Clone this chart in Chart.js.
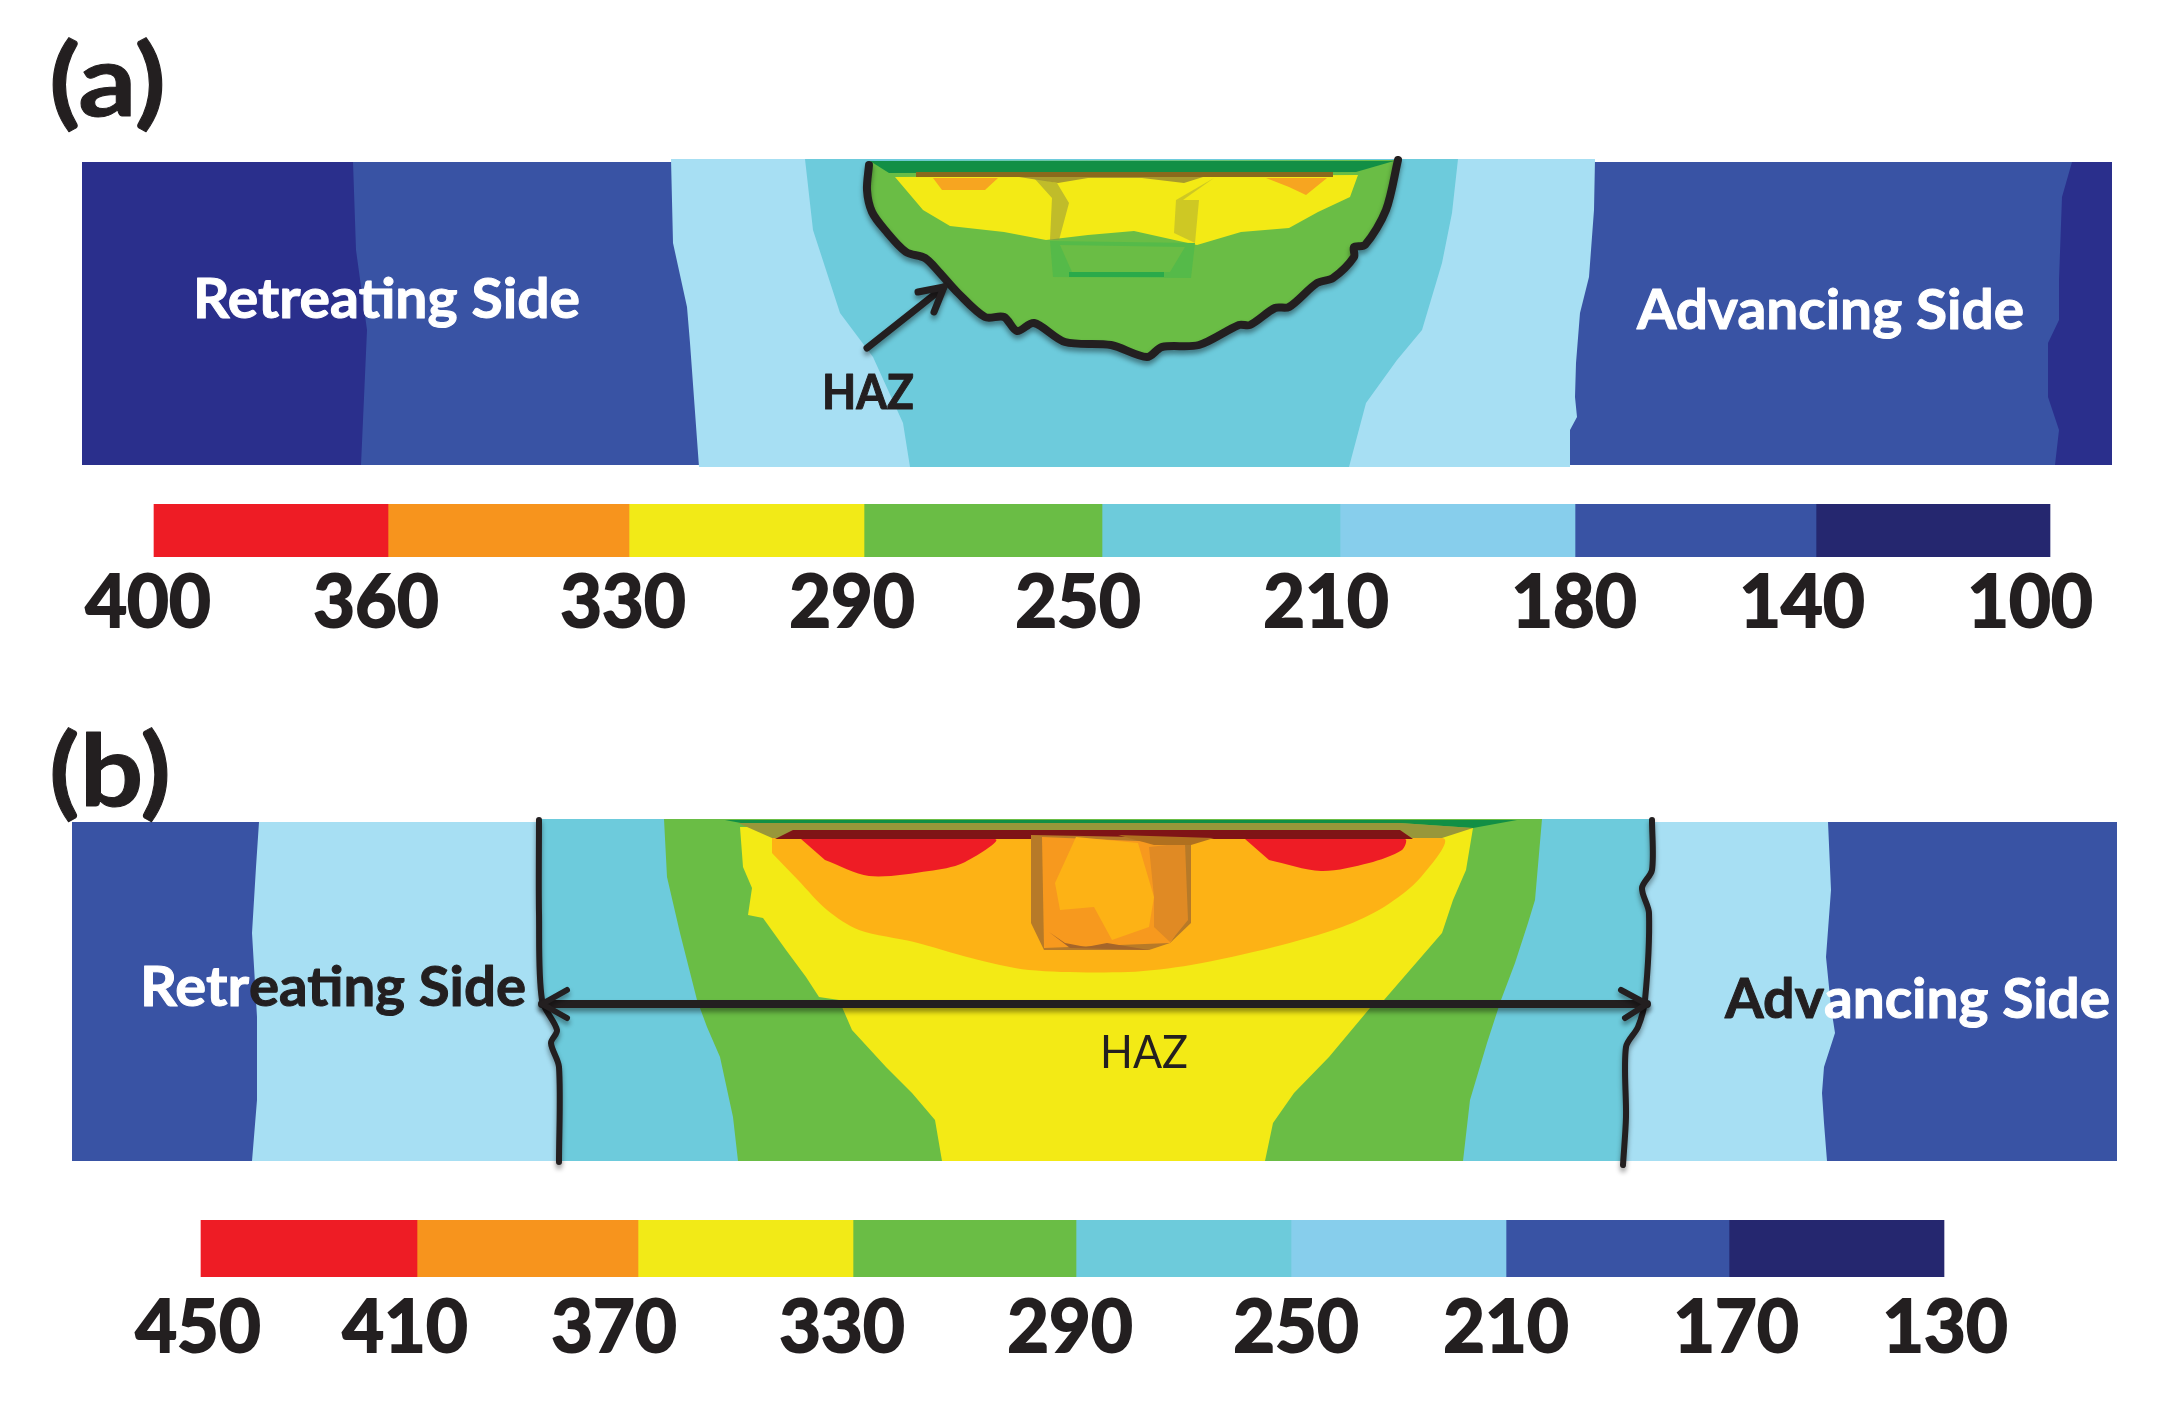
<!DOCTYPE html>
<html>
<head>
<meta charset="utf-8">
<title>Temperature contours</title>
<script src="https://cdn.jsdelivr.net/npm/chart.js@4"></script>
<style>
  html, body { margin: 0; padding: 0; background: #fff; }
  body { position: relative; width: 2160px; height: 1419px; overflow: hidden; }
  canvas { position: absolute; left: 0; }
</style>
</head>
<body>
<canvas id="plateA" width="2160" height="500" style="top:0"></canvas>
<canvas id="keyA" width="2160" height="136" style="top:504px"></canvas>
<canvas id="plateB" width="2160" height="510" style="top:700px"></canvas>
<canvas id="keyB" width="2160" height="142" style="top:1220px"></canvas>
<script>
// Colour keys
const labelsA = ['400', '360', '330', '290', '250', '210', '180', '140', '100'];
const labelsB = ['450', '410', '370', '330', '290', '250', '210', '170', '130'];
const edgesA = [154, 388, 629, 864, 1102, 1340, 1575, 1816, 2050];
const edgesB = [201, 417, 638, 853, 1076, 1291, 1506, 1729, 1944];
const tickAtA = [148, 376, 623, 852, 1078, 1326, 1574, 1802, 2030];
const tickAtB = [198, 405, 614, 842, 1070, 1296, 1506, 1736, 1945];
const keyColors = ['#ee1c25', '#f7941d', '#f2ea17', '#6abd45', '#6dcbdb', '#87ceec', '#3953a4', '#25276f'];

// Panel (a) contours
const aPlate = [[82, 162], [2112, 162], [2112, 465], [82, 465]];
const aBlue = [[353, 162], [2072, 162], [2062, 197], [2059, 280], [2059, 320], [2048, 343], [2048, 397], [2059, 430], [2055, 465], [361, 465], [367, 330], [356, 250]];
const aLight = [[671, 159], [1595, 159], [1594, 210], [1589, 277], [1580, 313], [1576, 363], [1575, 397], [1577, 417], [1570, 430], [1570, 467], [699, 467], [690, 343], [687, 307], [673, 243]];
const aCyan = [[805, 159], [1458, 159], [1452, 213], [1442, 263], [1422, 330], [1397, 360], [1366, 403], [1349, 467], [910, 467], [903, 423], [873, 357], [840, 313], [813, 230]];
const aHaz = [[869, 161], [867, 190], [872, 212], [885, 230], [906, 252], [925, 258], [939, 272], [958, 293], [985, 317], [1004, 317], [1017, 331], [1034, 323], [1065, 342], [1111, 345], [1147, 357], [1162, 347], [1199, 345], [1239, 325], [1250, 325], [1275, 308], [1289, 307], [1317, 283], [1333, 278], [1354, 257], [1354, 247], [1365, 245], [1386, 210], [1398, 160]];
const aYellow = [[895, 177], [1358, 175], [1350, 197], [1318, 212], [1289, 228], [1241, 232], [1197, 245], [1134, 231], [1088, 235], [1046, 240], [1004, 232], [950, 226], [923, 210]];
const aOrangeL = [[933, 178], [998, 178], [985, 190], [942, 190]];
const aOrangeR = [[1266, 178], [1327, 178], [1306, 195], [1289, 187]];
const aTopGreen = [[870, 161], [1394, 161], [1356, 172], [889, 173]];
const aBrown = [[916, 172], [1333, 172], [1333, 177], [916, 177]];
const aOlive = [[1019, 177], [1203, 177], [1184, 183], [1142, 178], [1088, 178], [1058, 183]];
const aPinL = [[1034, 178], [1057, 183], [1069, 203], [1059, 240], [1050, 240], [1052, 198]];
const aPinR = [[1214, 178], [1183, 200], [1199, 200], [1195, 243], [1174, 233], [1176, 200]];
const aPinRing = [[1050, 241], [1195, 243], [1191, 278], [1053, 277]];
const aPinCore = [[1060, 245], [1185, 247], [1170, 272], [1072, 272]];
const aPinBase = [[1069, 272], [1164, 272], [1164, 277], [1069, 277]];
const aHazCurve = [[869, 165], [867, 190], [872, 212], [885, 230], [906, 252], [925, 258], [939, 272], [958, 293], [985, 317], [1004, 317], [1017, 331], [1034, 323], [1065, 342], [1111, 345], [1147, 357], [1162, 347], [1199, 345], [1239, 325], [1250, 325], [1275, 308], [1289, 307], [1317, 283], [1333, 278], [1354, 257], [1354, 247], [1365, 245], [1386, 210], [1398, 160]];
const aArrow = [[867, 348], [944, 287]];
const aArrowHead = [[918, 292], [944, 287], [934, 312]];

// Panel (b) contours
const bPlate = [[72, 822], [2117, 822], [2117, 1161], [72, 1161]];
const bLight = [[259, 822], [1828, 822], [1831, 890], [1826, 957], [1831, 1007], [1835, 1033], [1824, 1067], [1822, 1093], [1824, 1123], [1827, 1161], [252, 1161], [257, 1100], [257, 1017], [252, 933], [256, 867]];
const bCyan = [[539, 819], [1652, 819], [1652, 870], [1642, 888], [1649, 913], [1645, 1000], [1638, 1027], [1626, 1047], [1626, 1117], [1623, 1161], [559, 1161], [559, 1067], [551, 1043], [557, 1030], [542, 1000], [539, 913]];
const bGreen = [[664, 819], [1542, 819], [1535, 900], [1528, 923], [1515, 963], [1501, 1000], [1487, 1043], [1470, 1100], [1463, 1161], [738, 1161], [733, 1117], [720, 1057], [707, 1027], [697, 1000], [680, 933], [667, 877]];
const bYellow = [[740, 827], [1473, 828], [1466, 870], [1453, 900], [1442, 933], [1384, 1000], [1370, 1008], [1329, 1057], [1294, 1093], [1273, 1123], [1265, 1161], [942, 1161], [935, 1120], [912, 1093], [886, 1067], [852, 1030], [839, 1000], [819, 997], [806, 977], [786, 950], [763, 918], [748, 915], [752, 888], [743, 867]];
const bOrange = [[772, 838], [1442, 838], [1421, 877], [1384, 907], [1342, 927], [1274, 947], [1191, 965], [1128, 972], [1029, 970], [971, 958], [914, 942], [859, 930], [827, 910], [798, 880], [772, 853]];
const bRedL = [[801, 839], [995, 839], [963, 863], [929, 871], [869, 876], [825, 860]];
const bRedR = [[1245, 839], [1405, 839], [1402, 850], [1369, 863], [1321, 871], [1269, 860]];
const bTopGreen = [[725, 820], [1517, 820], [1473, 828], [1400, 823], [741, 823]];
const bOlive = [[738, 823], [1400, 823], [1473, 828], [1442, 838], [772, 838]];
const bDarkRed = [[793, 830], [1400, 830], [1413, 839], [775, 839]];
const bPin = [[1031, 835], [1191, 838], [1191, 923], [1170, 943], [1149, 950], [1044, 950], [1031, 923]];
const bPinCore = [[1042, 837], [1185, 843], [1183, 923], [1170, 943], [1044, 948]];
const bPinLight = [[1076, 837], [1138, 843], [1154, 897], [1149, 927], [1112, 940], [1094, 907], [1060, 910], [1055, 883]];
const bPinSide = [[1149, 847], [1185, 843], [1188, 920], [1170, 942], [1154, 927], [1154, 897]];
const bPinCap = [[1118, 835], [1214, 838], [1191, 845], [1154, 845]];
const bPinFoot = [[1049, 932], [1070, 948], [1149, 950], [1107, 943], [1086, 947], [1065, 943]];
const bLineL = [[539, 820], [539, 913], [542, 1000], [557, 1030], [551, 1043], [559, 1067], [559, 1162]];
const bLineR = [[1652, 820], [1652, 870], [1642, 888], [1649, 913], [1645, 1000], [1638, 1027], [1626, 1047], [1626, 1117], [1623, 1165]];
const bSpan = [[542, 1004], [1647, 1004]];
const bHeadL = [[567, 990], [542, 1004], [567, 1018]];
const bHeadR = [[1621, 990], [1647, 1004], [1625, 1018]];

const INK = '#231f20';
const GREEN = '#6abd45';
const CYAN = '#6dcbdc';
const LIGHT = '#a7dff3';
const BLUE = '#3953a4';
const NAVY = '#2a2f8c';
const YELLOW = '#f3ea15';
const AMBER = '#fdb215';
const RED = '#ee1c25';

function area(points, color, tension = 0) {
  return {
    data: points.map(([x, y]) => ({ x, y })),
    showLine: true,
    fill: 'shape',
    backgroundColor: color,
    borderWidth: 0,
    pointRadius: 0,
    tension
  };
}

function stroke(points, width, tension = 0) {
  return {
    data: points.map(([x, y]) => ({ x, y })),
    showLine: true,
    fill: false,
    borderColor: INK,
    borderWidth: width,
    borderCapStyle: 'round',
    borderJoinStyle: 'round',
    pointRadius: 0,
    tension,
    inkShadow: true
  };
}

// hand drawn lines have a soft shadow below them
const shadowPlugin = {
  id: 'inkShadow',
  beforeDatasetDraw(chart, args) {
    if (!chart.data.datasets[args.index].inkShadow) return;
    const { ctx } = chart;
    ctx.save();
    ctx.shadowColor = 'rgba(0,0,0,0.4)';
    ctx.shadowBlur = 5;
    ctx.shadowOffsetY = 4;
  },
  afterDatasetDraw(chart, args) {
    if (chart.data.datasets[args.index].inkShadow) chart.ctx.restore();
  }
};

// text placed on the panel, stretched to the measured width
const textPlugin = {
  id: 'panelText',
  afterDatasetsDraw(chart, args, opts) {
    const { ctx, scales } = chart;
    opts.items.forEach(t => {
      ctx.save();
      ctx.textBaseline = 'alphabetic';
      ctx.textAlign = 'left';
      ctx.font = t.font;
      ctx.fillStyle = t.color;
      ctx.strokeStyle = t.color;
      ctx.lineWidth = t.heavy || 0;
      ctx.lineJoin = 'round';
      ctx.translate(scales.x.getPixelForValue(t.x), scales.y.getPixelForValue(t.y));
      if (t.width) ctx.scale(t.width / ctx.measureText(t.text).width, 1);
      ctx.fillText(t.text, 0, 0);
      if (t.heavy) ctx.strokeText(t.text, 0, 0);
      ctx.restore();
    });
  }
};

function drawPlate(id, yMin, yMax, layers, items) {
  new Chart(document.getElementById(id), {
    type: 'scatter',
    // the first dataset ends up on top, so paint order is reversed
    data: { datasets: layers.slice().reverse() },
    options: {
      responsive: false,
      animation: false,
      devicePixelRatio: 1,
      layout: { padding: 0 },
      plugins: { legend: { display: false }, tooltip: { enabled: false }, panelText: { items } },
      scales: {
        x: { type: 'linear', min: 0, max: 2160, display: false },
        y: { type: 'linear', min: yMin, max: yMax, reverse: true, display: false }
      }
    },
    plugins: [shadowPlugin, textPlugin]
  });
}

function drawKey(id, edges, tickAt, labels, barHeight, canvasHeight, padding) {
  new Chart(document.getElementById(id), {
    type: 'bar',
    data: {
      labels: ['key'],
      datasets: keyColors.map((color, i) => ({
        data: [[edges[i], edges[i + 1]]],
        backgroundColor: color,
        borderWidth: 0,
        grouped: false,
        barPercentage: 1,
        categoryPercentage: 1
      }))
    },
    options: {
      indexAxis: 'y',
      responsive: false,
      animation: false,
      devicePixelRatio: 1,
      layout: { padding: 0 },
      plugins: { legend: { display: false }, tooltip: { enabled: false } },
      scales: {
        y: { display: false },
        x: {
          type: 'linear',
          min: 0,
          max: 2160,
          grid: { display: false, drawTicks: false },
          border: { display: false },
          afterBuildTicks: axis => { axis.ticks = tickAt.map(value => ({ value })); },
          afterFit: axis => { axis.height = canvasHeight - barHeight; axis.paddingLeft = 0; axis.paddingRight = 0; },
          ticks: {
            autoSkip: false,
            maxRotation: 0,
            padding,
            color: INK,
            textStrokeColor: INK,
            textStrokeWidth: 2,
            font: { family: 'Lato', weight: 'bold', size: 72, lineHeight: 1 },
            callback: (value, i) => labels[i]
          }
        }
      }
    }
  });
}

drawPlate('plateA', 0, 500, [
  area(aPlate, NAVY),
  area(aBlue, BLUE),
  area(aLight, LIGHT),
  area(aCyan, CYAN),
  area(aHaz, GREEN),
  area(aYellow, YELLOW),
  area(aOrangeL, '#f7a520'),
  area(aOrangeR, '#f7a520'),
  area(aTopGreen, '#128f45'),
  area(aBrown, '#8a6a1c'),
  area(aOlive, '#a89a2c'),
  area(aPinL, 'rgba(150,150,60,0.55)'),
  area(aPinR, 'rgba(150,150,60,0.4)'),
  area(aPinRing, '#55ba49'),
  area(aPinCore, GREEN),
  area(aPinBase, '#2aaa4a'),
  stroke(aHazCurve, 8, 0.3),
  stroke(aArrow, 7),
  stroke(aArrowHead, 7)
], [
  { text: '(a)', x: 49, y: 116, width: 117, font: 'bold 100px Lato', color: INK, heavy: 1 },
  { text: 'Retreating Side', x: 193, y: 318, width: 387, font: 'bold 55px Lato', color: '#fff', heavy: 1 },
  { text: 'Advancing Side', x: 1637, y: 329, width: 387, font: 'bold 55px Lato', color: '#fff', heavy: 1 },
  { text: 'HAZ', x: 822, y: 409, width: 92, font: 'bold 47px Lato', color: INK, heavy: 1 }
]);

drawPlate('plateB', 700, 1210, [
  area(bPlate, BLUE),
  area(bLight, LIGHT),
  area(bCyan, CYAN),
  area(bGreen, GREEN),
  area(bYellow, YELLOW),
  area(bOrange, AMBER, 0.3),
  area(bRedL, RED, 0.3),
  area(bRedR, RED, 0.3),
  area(bTopGreen, '#128f45'),
  area(bOlive, '#98973a'),
  area(bDarkRed, '#7f1416'),
  area(bPin, '#b77a28'),
  area(bPinCore, '#f7991e'),
  area(bPinLight, AMBER),
  area(bPinSide, '#e08a24'),
  area(bPinCap, '#b0701f'),
  area(bPinFoot, '#a5652a'),
  stroke(bLineL, 6, 0.3),
  stroke(bLineR, 6, 0.3),
  stroke(bSpan, 8),
  stroke(bHeadL, 6),
  stroke(bHeadR, 6)
], [
  { text: '(b)', x: 49, y: 806, width: 122, font: 'bold 100px Lato', color: INK, heavy: 1 },
  { text: 'Retr', x: 140, y: 1006, width: 109, font: 'bold 55px Lato', color: '#fff', heavy: 1 },
  { text: 'eating Side', x: 249, y: 1006, width: 277, font: 'bold 55px Lato', color: INK, heavy: 1 },
  { text: 'Adv', x: 1725, y: 1018, width: 99, font: 'bold 55px Lato', color: INK, heavy: 1 },
  { text: 'ancing Side', x: 1824, y: 1018, width: 286, font: 'bold 55px Lato', color: '#fff', heavy: 1 },
  { text: 'HAZ', x: 1100, y: 1068, width: 88, font: '47px Lato', color: INK }
]);

drawKey('keyA', edgesA, tickAtA, labelsA, 53, 136, 11);
drawKey('keyB', edgesB, tickAtB, labelsB, 57, 142, 16);
</script>
</body>
</html>
